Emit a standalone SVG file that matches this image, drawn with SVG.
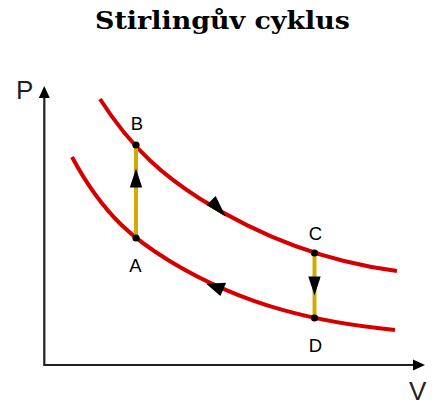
<svg xmlns="http://www.w3.org/2000/svg" width="444" height="405" viewBox="0 0 444 405">
<style>
.axis{fill:none;stroke:#231f20;stroke-width:2.2}
.iso{fill:none;stroke:#d40000;stroke-width:4}
.isoch{fill:none;stroke:#d4aa00;stroke-width:4}
.dot{fill:#000}
.tri{fill:#000}
.lbl{font-family:"Liberation Sans",Arial,sans-serif;font-size:18.5px;fill:#000;text-anchor:middle}
.axl{font-family:"Liberation Sans",Arial,sans-serif;font-size:26px;fill:#231f20}
.title{font-family:"DejaVu Serif",serif;font-weight:bold;font-size:24px;fill:#000;text-anchor:middle}
</style>
<rect width="444" height="405" fill="#fff"/>
<text class="title" x="222.5" y="29" textLength="255" lengthAdjust="spacingAndGlyphs">Stirlingův cyklus</text>
<g id="axes">
<path class="axis" d="M44.3,95 V365 H416"/>
<polygon class="tri" fill="#231f20" points="44.3,86 38.8,98 49.8,98"/>
<polygon class="tri" fill="#231f20" points="425,365 413,359.5 413,370.5"/>
<text class="axl" x="16" y="98.5">P</text>
<text class="axl" x="409" y="400">V</text>
</g>
<g id="connectors">
<path id="isoTop" class="iso" d="M100,99 C133.3,151.2 166.7,177.6 200,198.7 C265.7,240.3 331.3,262.4 397,271"/>
<path id="isoBot" class="iso" d="M72,157 C104.67,217.9 137.33,241.4 170,261.2 C245,306.65 320,322.8 395,330"/>
<line id="AB" class="isoch" x1="136" y1="145" x2="136" y2="238"/>
<line id="CD" class="isoch" x1="314.5" y1="253" x2="314.5" y2="318"/>
<polygon class="tri" points="136,168.5 129.8,187.5 142.2,187.5"/>
<polygon class="tri" points="314.5,295.5 308.3,276.5 320.7,276.5"/>
<polygon class="tri" points="225.6,216.4 206.5,204.9 215.7,196"/>
<polygon class="tri" points="206.2,283.8 226.1,282.7 220.4,296.1"/>
</g>
<g id="node-A"><circle class="dot" cx="136" cy="238" r="3.6"/><text class="lbl" x="135.5" y="271.5">A</text></g>
<g id="node-B"><circle class="dot" cx="136" cy="145" r="3.6"/><text class="lbl" x="137" y="129.5">B</text></g>
<g id="node-C"><circle class="dot" cx="314.5" cy="253" r="3.6"/><text class="lbl" x="315.5" y="240">C</text></g>
<g id="node-D"><circle class="dot" cx="314.5" cy="318" r="3.6"/><text class="lbl" x="315.5" y="351.7">D</text></g>
</svg>
